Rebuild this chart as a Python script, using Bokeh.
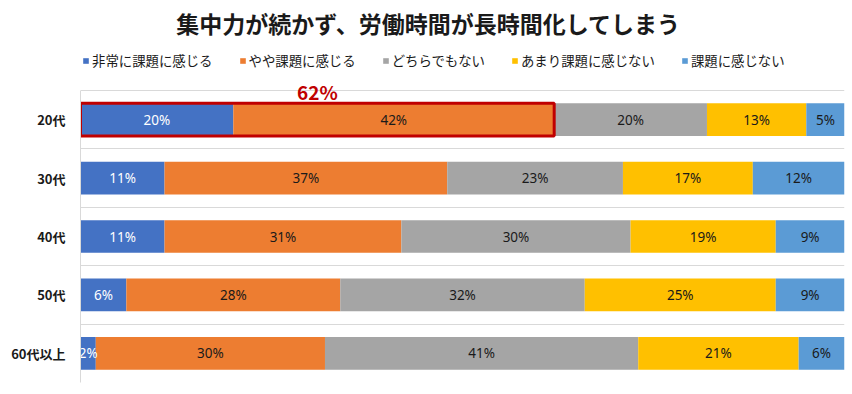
from bokeh.plotting import figure
from bokeh.models import Range1d, FixedTicker, Legend, LegendItem, Label, ColumnDataSource
from bokeh.embed import file_html
from bokeh.resources import INLINE
from bokeh.core.properties import value

title_text = "集中力が続かず、労働時間が長時間化してしまう"
categories = ["20代", "30代", "40代", "50代", "60代以上"]
series_names = ["非常に課題に感じる", "やや課題に感じる", "どちらでもない", "あまり課題に感じない", "課題に感じない"]
very = [20, 11, 11, 6, 2]
somewhat = [42, 37, 31, 28, 30]
neutral = [20, 23, 30, 32, 41]
not_much = [13, 17, 19, 25, 21]
not_at_all = [5, 12, 9, 9, 6]
colors = ["#4472C4", "#ED7D31", "#A5A5A5", "#FFC000", "#5B9BD5"]
label_colors = ["#FFFFFF", "#1A1A1A", "#1A1A1A", "#1A1A1A", "#1A1A1A"]

series_values = [very, somewhat, neutral, not_much, not_at_all]
n = len(categories)
ypos = [n - i - 0.5 for i in range(n)]
bar_h = 0.56
JP = "Noto Sans CJK JP"

W, H = 852, 394
frame_left, frame_right_pad, frame_bottom_pad = 80, 8, 12
data_px = 292                         # pixel height of the n category rows
frame_h = H - frame_bottom_pad
y_top = n * frame_h / data_px          # extra room above rows for title & legend
x_per_px = 100 / (W - frame_left - frame_right_pad)
y_per_px = n / data_px

p = figure(width=W, height=H, output_backend="svg", toolbar_location=None,
           x_range=Range1d(0, 100), y_range=Range1d(0, y_top),
           min_border_left=frame_left, min_border_right=frame_right_pad,
           min_border_bottom=frame_bottom_pad, min_border_top=0)
p.outline_line_color = None
p.background_fill_color = "white"
p.border_fill_color = "white"

keys = [f"s{i}" for i in range(len(series_names))]
data = {"y": ypos}
for k, vals in zip(keys, series_values):
    data[k] = vals
src = ColumnDataSource(data)
renderers = p.hbar_stack(keys, y="y", height=bar_h, color=colors, line_color=None, source=src)

# highlight box around first two series of first category
hl = very[0] + somewhat[0]
p.quad(left=[0], right=[hl], bottom=[ypos[0] - bar_h / 2], top=[ypos[0] + bar_h / 2],
       fill_color=None, line_color="#C00000", line_width=3)

# data labels
lx, ly, lt, lc = [], [], [], []
for ci in range(n):
    left = 0
    for si, vals in enumerate(series_values):
        v = vals[ci]
        lx.append(left + v / 2)
        ly.append(ypos[ci])
        lt.append(f"{v}%")
        lc.append(label_colors[si])
        left += v
p.text(x=lx, y=ly, text=lt, text_color=lc, text_align="center", text_baseline="middle",
       text_font=value("Noto Sans"), text_font_size="13.5px")

p.add_layout(Label(x=hl / 2, y=ypos[0] + bar_h / 2 - 2 * y_per_px, text=f"{hl}%", text_align="center",
                   text_baseline="bottom", text_color="#C00000",
                   text_font=JP, text_font_style="bold", text_font_size="19px"))

# title (inside the extended frame, above the rows)
p.add_layout(Label(x=(428 - frame_left) * x_per_px, y=(frame_h - 22) * y_per_px, text=title_text,
                   text_align="center", text_baseline="middle", text_color="#1A1A1A",
                   text_font=JP, text_font_style="bold", text_font_size="23px"))

# axes
p.xaxis.visible = False
p.xgrid.visible = False
p.yaxis.ticker = FixedTicker(ticks=ypos)
p.yaxis.bounds = (0, n)
p.yaxis.major_label_overrides = {y: c for y, c in zip(ypos, categories)}
p.yaxis.axis_line_color = "#D9D9D9"
p.yaxis.major_tick_line_color = None
p.yaxis.minor_tick_line_color = None
p.yaxis.major_label_standoff = 9
p.yaxis.major_label_text_font = JP
p.yaxis.major_label_text_font_style = "bold"
p.yaxis.major_label_text_font_size = "13px"
p.yaxis.major_label_text_color = "#1A1A1A"
p.ygrid.ticker = FixedTicker(ticks=list(range(n + 1)))
p.ygrid.grid_line_color = "#D9D9D9"

# legend (positioned above the rows, inside the frame)
items = [LegendItem(label=s, renderers=[r]) for s, r in zip(series_names, renderers)]
legend = Legend(items=items, orientation="horizontal", location=(2, frame_h - 70),
                glyph_width=7, glyph_height=7, label_standoff=3, spacing=26,
                padding=0, margin=0, border_line_color=None, background_fill_alpha=0,
                label_text_font=JP, label_text_font_size="13.4px", label_text_color="#1A1A1A",
                label_height=14)
p.add_layout(legend, "center")

open("out.html", "w").write(file_html(p, INLINE))
